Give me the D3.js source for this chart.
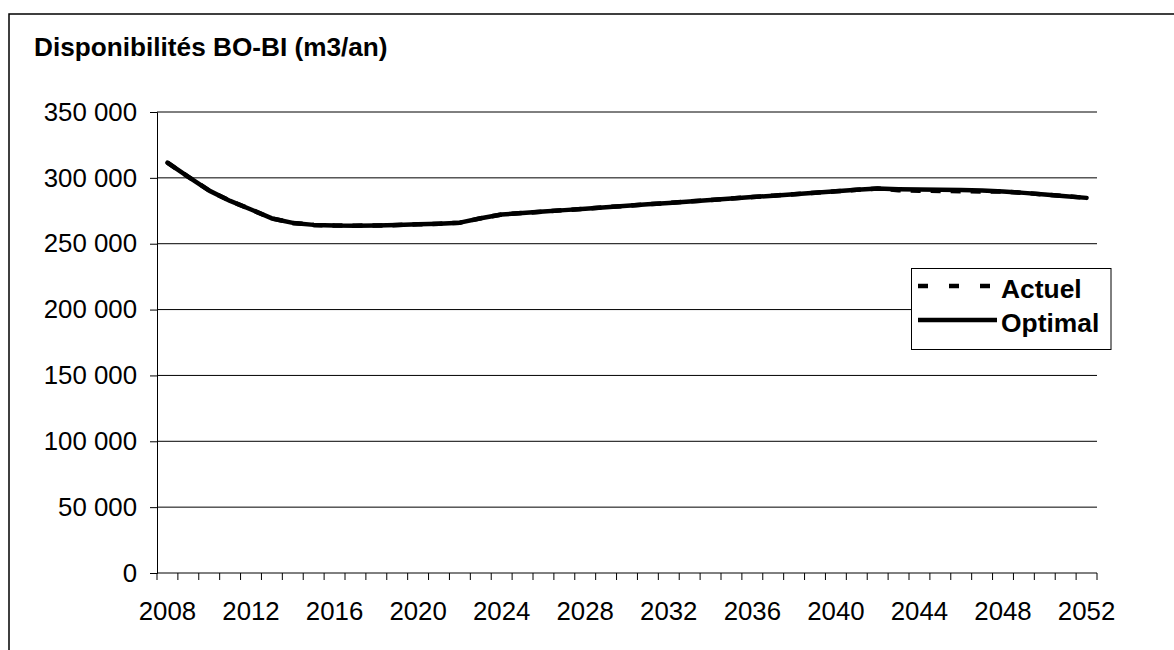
<!DOCTYPE html>
<html><head><meta charset="utf-8">
<script src="https://cdn.jsdelivr.net/npm/d3@7"></script>
<style>
body{margin:0;background:#fff;}
text{font-family:Arial,"Liberation Sans",sans-serif;fill:#000;}
</style></head>
<body><svg id="c" width="1174" height="650"></svg>
<script>
const title = "Disponibilités BO-BI (m3/an)";
const years = d3.range(2008, 2053);
const seriesNames = ["Actuel", "Optimal"];
const actuel = [311500,300800,290300,282500,276000,269200,265800,264300,263800,263700,
  263800,264200,264700,265200,266000,269300,272200,273300,274400,275500,
  276600,277700,278800,279900,281000,282100,283200,284300,285400,286500,
  287600,288700,289800,290900,291900,290600,290300,290100,289900,289700,
  289600,288600,287400,286100,284800];
const optimal = [311500,300800,290300,282500,276000,269200,265800,264300,263800,263700,
  263800,264200,264700,265200,266000,269300,272200,273300,274400,275500,
  276600,277700,278800,279900,281000,282100,283200,284300,285400,286500,
  287600,288700,289800,290900,291900,291400,291100,290900,290700,290400,
  289700,288600,287400,286100,284800];
const yTicks = [0,50000,100000,150000,200000,250000,300000,350000];
const xLabelYears = d3.range(2008, 2053, 4);

const svg = d3.select("#c");
const L = 157, R = 1097, T = 112, B = 573;
const x = d3.scaleBand().domain(years).range([L, R]).padding(0);
const y = d3.scaleLinear().domain([0, 350000]).range([B, T]);
const loc = d3.formatLocale({thousands:" ", grouping:[3], decimal:",", currency:["",""]});
const fmt = loc.format(",d");

// chart area border (left and top visible)
svg.append("rect").attr("x",9).attr("y",14).attr("width",1300).attr("height",800)
  .attr("fill","none").attr("stroke","#000").attr("stroke-width",1.5);

svg.append("text").attr("x",34).attr("y",56).attr("font-size",26.2).attr("font-weight","bold").text(title);

// gridlines
svg.append("g").selectAll("line").data(yTicks.filter(d=>d>0)).join("line")
  .attr("x1",L).attr("x2",R).attr("y1",d=>y(d)).attr("y2",d=>y(d))
  .attr("stroke","#000").attr("stroke-width",1);

// y axis
const ya = svg.append("g").attr("transform",`translate(${L},0)`)
  .call(d3.axisLeft(y).tickValues(yTicks).tickFormat(fmt).tickSize(7).tickPadding(13));
ya.select(".domain").attr("stroke","#000");
ya.selectAll(".tick line").attr("stroke","#000");
ya.selectAll("text").attr("font-size",25.8).attr("font-family","Arial, 'Liberation Sans', sans-serif").attr("fill","#000");

// x axis: ticks at category boundaries
const xa = svg.append("g").attr("transform",`translate(0,${B})`);
xa.append("line").attr("x1",L).attr("x2",R).attr("stroke","#000");
const bounds = years.map(d=>x(d)).concat([R]);
xa.selectAll("line.tk").data(bounds).join("line").attr("class","tk")
  .attr("x1",d=>d).attr("x2",d=>d).attr("y1",0).attr("y2",7).attr("stroke","#000");
xa.selectAll("text").data(xLabelYears).join("text")
  .attr("x",d=>x(d)+x.bandwidth()/2).attr("y",46.5).attr("text-anchor","middle")
  .attr("font-size",25.8).text(d=>d);

// lines (straight segments, as in the original)
const line = d3.line().x((d,i)=>x(years[i])+x.bandwidth()/2).y(d=>y(d));
svg.append("path").datum(actuel).attr("d",line).attr("fill","none").attr("stroke","#000")
  .attr("stroke-width",4.5).attr("stroke-dasharray","10,10");
svg.append("path").datum(optimal).attr("d",line).attr("fill","none").attr("stroke","#000")
  .attr("stroke-width",4.5).attr("stroke-linecap","round").attr("stroke-linejoin","round");

// legend
const lg = svg.append("g");
lg.append("rect").attr("x",911.5).attr("y",268.5).attr("width",199.5).attr("height",81)
  .attr("fill","#fff").attr("stroke","#000").attr("stroke-width",1);
const rows = [{n:seriesNames[0], y:286, dash:"10,21"},{n:seriesNames[1], y:320, dash:null}];
rows.forEach(r=>{
  lg.append("line").attr("x1",918).attr("x2",997).attr("y1",r.y).attr("y2",r.y)
    .attr("stroke","#000").attr("stroke-width",4.5).attr("stroke-dasharray",r.dash);
  lg.append("text").attr("x",1001).attr("y",r.y+11.5).attr("font-size",26.4).attr("font-weight","bold").text(r.n);
});
</script></body></html>
